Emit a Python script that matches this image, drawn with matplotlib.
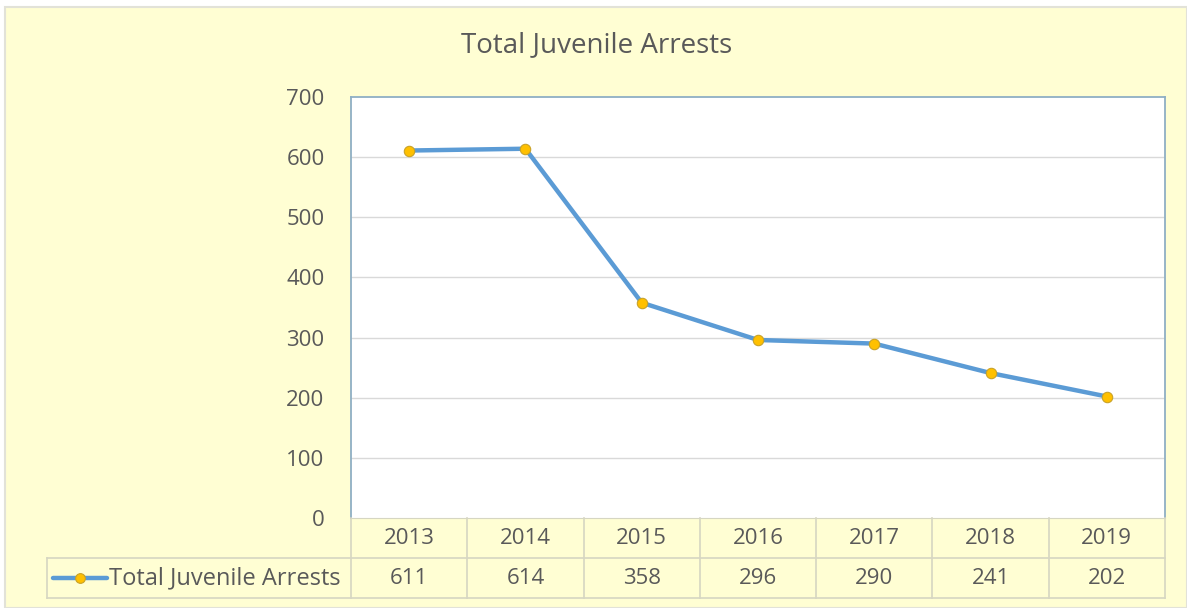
import matplotlib.pyplot as plt
from matplotlib.patches import Rectangle

years = ["2013", "2014", "2015", "2016", "2017", "2018", "2019"]
arrests = [611, 614, 358, 296, 290, 241, 202]
series_name = "Total Juvenile Arrests"
y_ticks = [0, 100, 200, 300, 400, 500, 600, 700]

W, H = 1187, 608
bg = "#FFFED3"
txt = "#595959"
grid_c = "#D9D9D9"
tbl_c = "#D6D6C2"
font = "Open Sans"
fs = 16

fig = plt.figure(figsize=(W / 100, H / 100), dpi=100)
fig.patch.set_facecolor("white")
# yellow chart area with faint border
fig.patches.append(Rectangle((5 / W, 0), 1 - 5 / W, 1 - 7 / H, transform=fig.transFigure,
                             facecolor=bg, edgecolor="#E2E2D8", lw=1.5, zorder=-10))


def px(x0, y0, x1, y1):
    return [x0 / W, 1 - y1 / H, (x1 - x0) / W, (y1 - y0) / H]


L, R, T, B = 351, 1165, 97, 518
ax = fig.add_axes(px(L, T, R, B))
ax.set_facecolor("white")
x = list(range(len(years)))
ax.plot(x, arrests, color="#5B9BD5", lw=3.2, marker="o", ms=7.5,
        mfc="#FFC000", mec="#C9A227", mew=0.8, solid_capstyle="round", zorder=3)
ax.set_xlim(-0.5, len(years) - 0.5)
ax.set_ylim(0, 700)
ax.set_yticks(y_ticks)
ax.set_yticklabels([str(v) for v in y_ticks], fontsize=fs, color=txt, family=font)
ax.tick_params(axis="y", length=0, pad=19)
ax.set_xticks([])
for v in y_ticks[1:-1]:
    ax.axhline(v, color=grid_c, lw=1, zorder=1)
for s in ["left", "right", "top"]:
    ax.spines[s].set_color("#8FAFC4")
    ax.spines[s].set_linewidth(1.3)
ax.spines["bottom"].set_color(tbl_c)

fig.text(0.503, 1 - 45 / H, "Total Juvenile Arrests", ha="center", va="center",
         fontsize=20, color=txt, family=font)

# data table under the plot
tb = fig.add_axes(px(47, B, R, 598))
tb.axis("off")
col_w = (R - L) / len(years)
leg_w = (L - 47) / col_w
tb.set_xlim(-0.5 - leg_w, len(years) - 0.5)
tb.set_ylim(0, 2)
left = -0.5 - leg_w
tb.plot([left, len(years) - 0.5], [1, 1], color=tbl_c, lw=1.2, clip_on=False)
tb.plot([left, len(years) - 0.5], [0, 0], color=tbl_c, lw=1.2, clip_on=False)
tb.plot([left, left], [0, 1], color=tbl_c, lw=1.2, clip_on=False)
for i in range(len(years) + 1):
    tb.plot([i - 0.5, i - 0.5], [0, 2], color=tbl_c, lw=1.2, clip_on=False)
for i, (yr, v) in enumerate(zip(years, arrests)):
    tb.text(i, 1.5, yr, ha="center", va="center", fontsize=fs, color=txt, family=font)
    tb.text(i, 0.5, str(v), ha="center", va="center", fontsize=fs, color=txt, family=font)
# legend key inside table
k0 = left + 0.05
k1 = left + 0.52
tb.plot([k0, k1], [0.5, 0.5], color="#5B9BD5", lw=3.2, solid_capstyle="round")
tb.plot([(k0 + k1) / 2], [0.5], marker="o", ms=7, mfc="#FFC000", mec="#C9A227", mew=0.8)
tb.text(k1 + 0.01, 0.5, series_name, ha="left", va="center", fontsize=17, color=txt, family=font)

fig.savefig("out.png", dpi=100, facecolor=fig.get_facecolor())
